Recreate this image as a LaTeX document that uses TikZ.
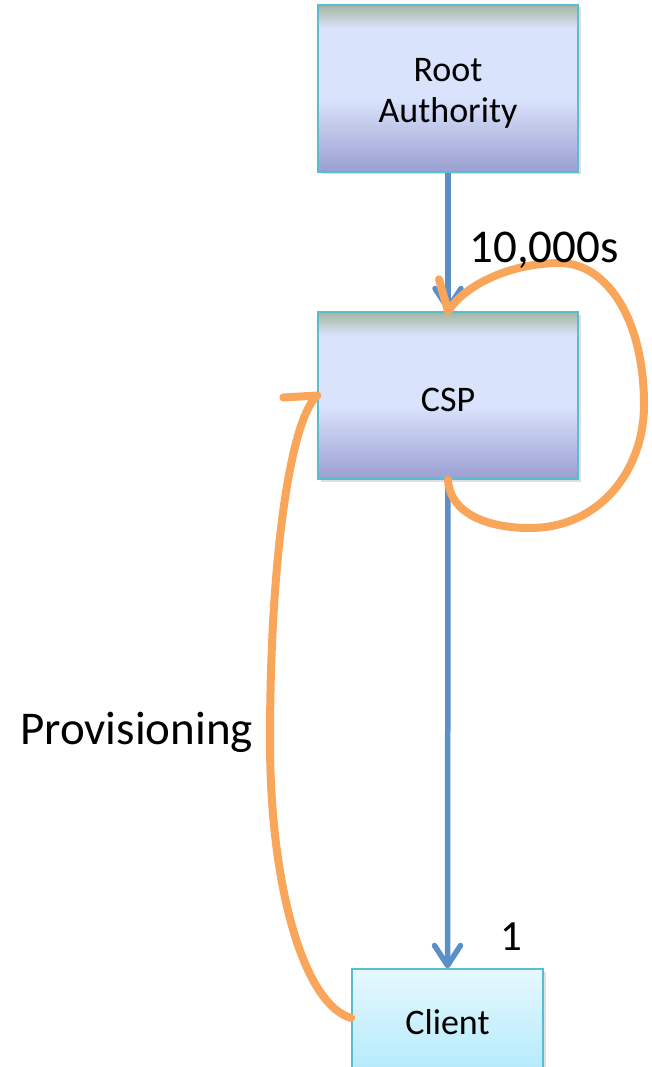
\documentclass[tikz,border=0pt]{standalone}
\usepackage{fontspec}
\setmainfont{Carlito}
\usetikzlibrary{arrows.meta,shadows}

% palette
\definecolor{boxtop}{HTML}{A5B6A2}
\definecolor{boxlight}{HTML}{DAE3FC}
\definecolor{boxbot}{HTML}{9A9FD1}
\definecolor{boxborder}{HTML}{5ABCD0}
\definecolor{clienttop}{HTML}{E6F8FE}
\definecolor{clientbot}{HTML}{B3EAFB}
\definecolor{flowblue}{HTML}{5B8FC8}
\definecolor{loopor}{HTML}{F9A65A}

% the path is mapped onto 25bp..75bp of a declared shading
\pgfdeclareverticalshading{entityshade}{100bp}{%
  color(0bp)=(boxbot); color(25bp)=(boxbot); color(47bp)=(boxlight);
  color(68bp)=(boxlight); color(75bp)=(boxtop); color(100bp)=(boxtop)}
\pgfdeclareverticalshading{clientshade}{100bp}{%
  color(0bp)=(clientbot); color(25bp)=(clientbot);
  color(75bp)=(clienttop); color(100bp)=(clienttop)}

\newcommand\entityfont{\fontsize{36}{41}\selectfont}
\newcommand\labelfont{\fontsize{47}{56}\selectfont}

\begin{document}
\begin{tikzpicture}[x=1pt,y=-1pt,
  entity/.style={draw=boxborder, line width=1.5pt, shading=entityshade,
    minimum width=260pt, minimum height=167pt, inner sep=0pt,
    align=center, font=\entityfont,
    drop shadow={shadow xshift=2.5pt, shadow yshift=-2.5pt, opacity=.25}},
  clientbox/.style={entity, shading=clientshade,
    minimum width=191pt, minimum height=106pt},
  flow/.style={draw=flowblue, line width=5.5pt,
    -{Straight Barb[length=20pt,width=26pt,round]}},
  loopline/.style={draw=loopor, line width=8pt, line cap=round, line join=round},
  countlabel/.style={inner sep=0pt, font=\labelfont}]

\useasboundingbox (0,0) rectangle (651,1067);

% entities
\node[entity, text height=76pt, text depth=7pt] (root) at (448,88.5) {Root\\Authority};
\node[entity, text height=31pt, text depth=0pt] (csp) at (448,395.5) {CSP};
\node[clientbox] (client) at (447.5,1022) {Client};

% certificate chain
\draw[flow] (root.south) -- (csp.north);
\draw[flow] (csp.south) -- (client.north);

% CSP issuing to itself
\draw[loopline] (csp.south)
  .. controls (450,515) and (490,528) .. (530,528)
  .. controls (600,528) and (644,470) .. (644,405)
  .. controls (644,318) and (606,263) .. (560,263)
  .. controls (510,263) and (465,285) .. (csp.north)
  -- ++(-9,-32);

% provisioning back from the client
\draw[loopline] ([yshift=4pt]client.west)
  .. controls (305,1005) and (270,890) .. (270,740)
  .. controls (270,560) and (290,420) .. (csp.west)
  -- ++(-34,2);

% counts and labels
\node[countlabel, anchor=base] (count-csp) at (544,262) {10,000s};
\node[countlabel, anchor=base, font=\fontsize{43}{52}\selectfont] (count-client) at (511,950) {1};
\node[countlabel, anchor=base west] (prov-label) at (20,744) {Provisioning};
\end{tikzpicture}
\end{document}
